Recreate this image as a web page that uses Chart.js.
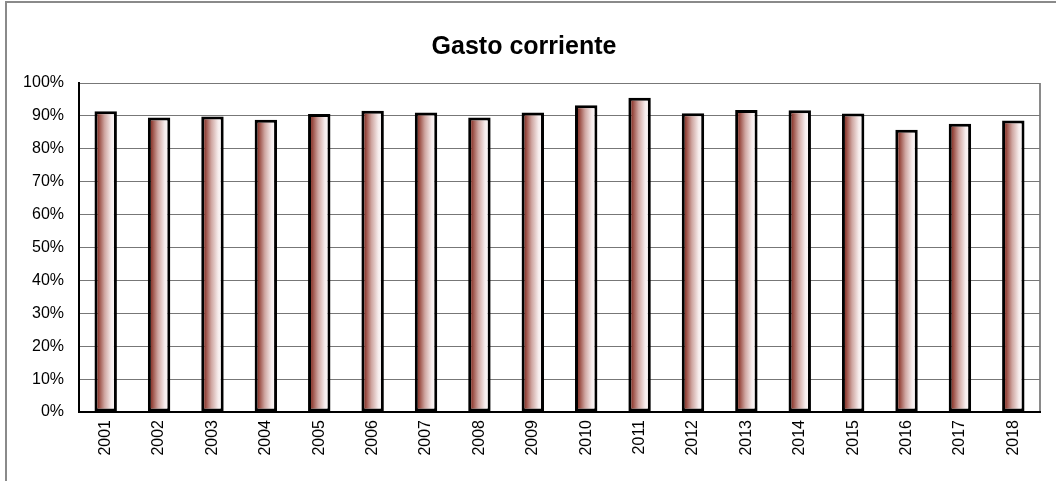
<!DOCTYPE html>
<html>
<head>
<meta charset="utf-8">
<script src="https://cdn.jsdelivr.net/npm/chart.js@4/dist/chart.umd.min.js"></script>
<style>
  html, body { margin: 0; padding: 0; background: #fff; }
  #wrap { width: 1056px; height: 481px; position: relative; }
</style>
</head>
<body>
<div id="wrap"><canvas id="gasto"></canvas></div>
<script>
const years = ['2001', '2002', '2003', '2004', '2005', '2006', '2007', '2008', '2009',
  '2010', '2011', '2012', '2013', '2014', '2015', '2016', '2017', '2018'];
const gastoPct = [91.4, 89.5, 89.8, 88.8, 90.6, 91.6, 91.0, 89.5, 91.0,
  93.2, 95.5, 90.8, 91.8, 91.7, 90.7, 85.8, 87.6, 88.6];
const yTicks = [0, 10, 20, 30, 40, 50, 60, 70, 80, 90, 100];

const BAR_PCT = 0.42;

// degradado horizontal para cada barra
const barGradient = (context) => {
  const chart = context.chart;
  const {ctx, chartArea, scales} = chart;
  if (!chartArea || !scales.x) return '#a0473c';
  const cx = scales.x.getPixelForValue(context.dataIndex);
  const w = chartArea.width / years.length * BAR_PCT;
  const g = ctx.createLinearGradient(cx - w / 2, 0, cx + w / 2, 0);
  g.addColorStop(0, '#6a2016');
  g.addColorStop(0.18, '#94443a');
  g.addColorStop(0.45, '#cfa6a1');
  g.addColorStop(0.75, '#f6ecec');
  g.addColorStop(1, '#ffffff');
  return g;
};

// marco exterior y borde derecho del area
const frame = {
  id: 'frame',
  beforeDraw(chart) {
    const {ctx, chartArea: {top, bottom, right}} = chart;
    ctx.save();
    ctx.strokeStyle = '#8a8a8a';
    ctx.lineWidth = 2;
    ctx.beginPath();
    ctx.moveTo(6, 481);
    ctx.lineTo(6, 2);
    ctx.lineTo(1056, 2);
    ctx.stroke();
    ctx.beginPath();
    ctx.moveTo(right, top);
    ctx.lineTo(right, bottom);
    ctx.stroke();
    ctx.restore();
  }
};

new Chart(document.getElementById('gasto'), {
  type: 'bar',
  data: {
    labels: years,
    datasets: [{
      data: gastoPct,
      backgroundColor: barGradient,
      borderColor: '#000',
      borderWidth: 3,
      borderSkipped: false,
      categoryPercentage: 1,
      barPercentage: BAR_PCT
    }]
  },
  options: {
    responsive: true,
    maintainAspectRatio: false,
    animation: false,
    layout: { padding: { left: 8, right: 16, top: 0, bottom: 0 } },
    plugins: {
      legend: { display: false },
      tooltip: { enabled: false },
      title: {
        display: true,
        text: 'Gasto corriente',
        color: '#000',
        font: { family: 'Liberation Sans, Arial', size: 25, weight: 'bold' },
        padding: { top: 32, bottom: 21 }
      }
    },
    scales: {
      x: {
        grid: { display: false, drawTicks: false },
        border: { color: '#000', width: 2 },
        ticks: {
          color: '#000',
          minRotation: 90,
          maxRotation: 90,
          padding: 8,
          font: { family: 'Liberation Sans, Arial', size: 16 }
        },
        afterFit(scale) { scale.height = 69; }
      },
      y: {
        min: 0,
        max: 100,
        afterBuildTicks(scale) { scale.ticks = yTicks.map(v => ({value: v})); },
        grid: { color: '#777', lineWidth: 1, drawTicks: false },
        border: { color: '#000', width: 2 },
        ticks: {
          color: '#000',
          padding: 15,
          font: { family: 'Liberation Sans, Arial', size: 16 },
          callback: (v) => v + '%'
        },
        afterFit(scale) { scale.width = 71; }
      }
    }
  },
  plugins: [frame]
});
</script>
</body>
</html>
